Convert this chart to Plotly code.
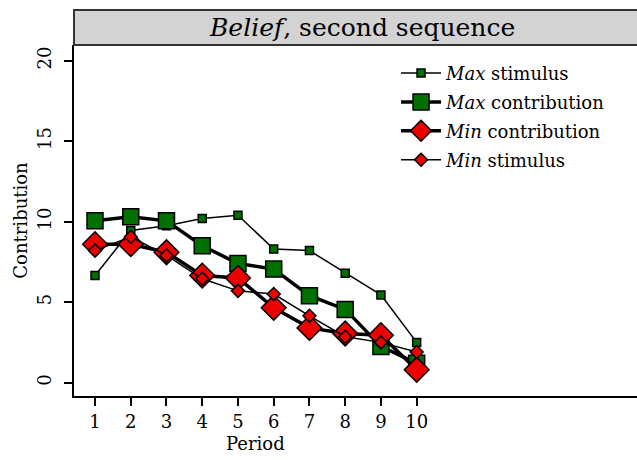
import plotly.graph_objects as go

periods = [1, 2, 3, 4, 5, 6, 7, 8, 9, 10]
max_stimulus = [6.65, 9.45, 9.75, 10.2, 10.4, 8.3, 8.2, 6.8, 5.45, 2.5]
max_contribution = [10.05, 10.3, 10.05, 8.5, 7.4, 7.05, 5.4, 4.55, 2.25, 1.2]
min_contribution = [8.6, 8.6, 8.1, 6.65, 6.5, 4.65, 3.4, 3.05, 2.95, 0.8]
min_stimulus = [8.2, 9.05, 7.9, 6.45, 5.7, 5.5, 4.15, 2.85, 2.5, 1.9]
y_ticks = [0, 5, 10, 15, 20]

GREEN = "#007000"
RED = "#ee0000"
FONT = "DejaVu Serif"

fig = go.Figure()
fig.add_trace(go.Scatter(
    x=periods, y=max_stimulus, mode="lines+markers", name="<i>Max</i> stimulus",
    line=dict(color="black", width=1.5),
    marker=dict(symbol="square", size=8, color=GREEN, line=dict(color="black", width=1.5)),
    legendgroup="a"))
fig.add_trace(go.Scatter(
    x=periods, y=max_contribution, mode="lines+markers", name="<i>Max</i> contribution",
    line=dict(color="black", width=3.5),
    marker=dict(symbol="square", size=16, color=GREEN, line=dict(color="black", width=1.5)),
    legendgroup="b"))
fig.add_trace(go.Scatter(
    x=periods, y=min_contribution, mode="lines+markers", name="<i>Min</i> contribution",
    line=dict(color="black", width=3.5),
    marker=dict(symbol="diamond", size=19, color=RED, line=dict(color="black", width=1.5)),
    legendgroup="c"))
fig.add_trace(go.Scatter(
    x=periods, y=min_stimulus, mode="lines+markers", name="<i>Min</i> stimulus",
    line=dict(color="black", width=1.5),
    marker=dict(symbol="diamond", size=10, color=RED, line=dict(color="black", width=1.5)),
    legendgroup="d"))

fig.update_layout(
    width=637, height=460,
    margin=dict(l=74, r=0, t=45, b=64),
    paper_bgcolor="white", plot_bgcolor="white",
    font=dict(family=FONT, size=18, color="black"),
    showlegend=True,
    legend=dict(x=0.572, y=0.972, xanchor="left", yanchor="top",
                bgcolor="rgba(0,0,0,0)", font=dict(family=FONT, size=18, color="black"),
                tracegroupgap=2.5, itemwidth=40, traceorder="grouped"),
    xaxis=dict(range=[0.412, 16.165], tickvals=periods, ticks="outside", ticklen=8,
               tickwidth=1.5, tickcolor="black", showline=True, linecolor="black",
               linewidth=2, showgrid=False, zeroline=False,
               tickfont=dict(family=FONT, size=18)),
    yaxis=dict(range=[-0.83, 20.97], tickvals=y_ticks, ticks="outside", ticklen=8,
               tickwidth=1.5, tickcolor="black", showline=True, linecolor="black",
               linewidth=2, showgrid=False, zeroline=False, tickangle=-90,
               ticklabelstandoff=6,
               tickfont=dict(family=FONT, size=18),
               title=dict(text="Contribution", standoff=1, font=dict(family=FONT, size=18))),
)

# x-axis title, centred under periods 1..10 as in the original panel
fig.add_annotation(xref="x", yref="paper", x=(periods[0] + periods[-1]) / 2,
                   y=-47 / 351, text="Period", showarrow=False,
                   font=dict(family=FONT, size=18, color="black"),
                   xanchor="center", yanchor="middle")

# Title strip
fig.add_shape(type="rect", xref="paper", yref="paper", x0=0, x1=1.01,
              y0=1.0, y1=1 + 35 / 351, fillcolor="#d3d3d3",
              line=dict(color="#333333", width=2), layer="above")
fig.add_annotation(xref="paper", yref="paper", x=(362 - 74) / 563, y=1 + 17.5 / 351,
                   text="<i>Belief</i>, second sequence", showarrow=False,
                   font=dict(family=FONT, size=25, color="black"),
                   xanchor="center", yanchor="middle")

fig.write_html("out.html")
